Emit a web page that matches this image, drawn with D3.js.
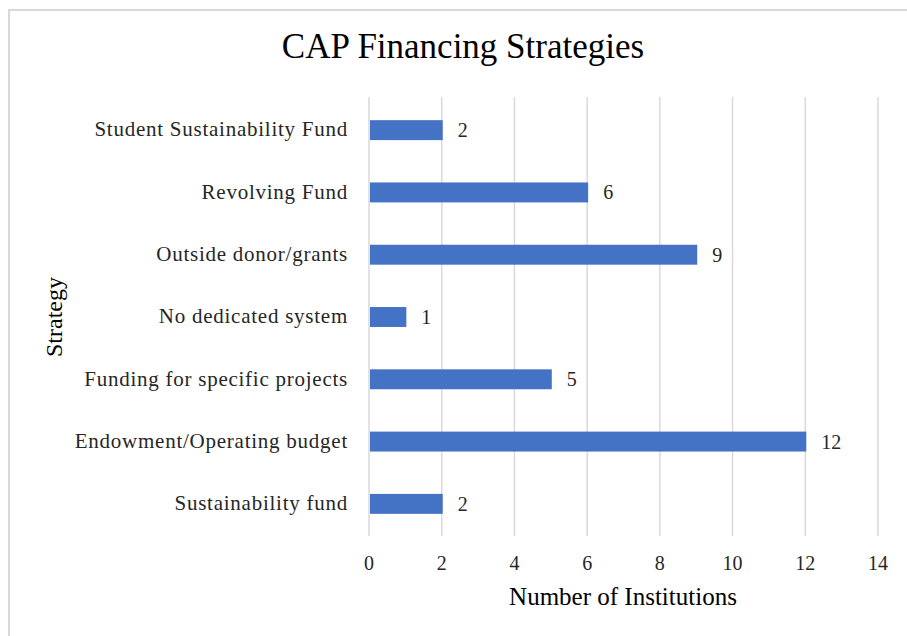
<!DOCTYPE html>
<html>
<head>
<meta charset="utf-8">
<script src="https://cdn.jsdelivr.net/npm/d3@7"></script>
<style>
  body { margin: 0; background: #fff; }
  svg { display: block; font-family: "Liberation Serif", "Times New Roman", serif; }
</style>
</head>
<body>
<div id="chart"></div>
<script>
var title = "CAP Financing Strategies";
var xTitle = "Number of Institutions";
var yTitle = "Strategy";
var strategies = ["Student Sustainability Fund", "Revolving Fund", "Outside donor/grants",
                  "No dedicated system", "Funding for specific projects",
                  "Endowment/Operating budget", "Sustainability fund"];
var institutions = [2, 6, 9, 1, 5, 12, 2];
var xTicks = [0, 2, 4, 6, 8, 10, 12, 14];

(function() {
    var W = 907, H = 636;
    var svg = d3.select("#chart").append("svg")
	.attr("width", W)
	.attr("height", H);

    // chart frame, runs off the right and bottom of the picture
    svg.append("rect")
	.attr("x", 9).attr("y", 10)
	.attr("width", W + 10).attr("height", H + 10)
	.attr("fill", "#fff")
	.attr("stroke", "#d9d9d9")
	.attr("stroke-width", 2);

    var x = d3.scaleLinear().domain([0, 14]).range([369, 878]);
    var y = d3.scaleBand().domain(strategies).range([99, 535])
	.paddingInner(0.68).paddingOuter(0.34);

    var rows = strategies.map(function(s, i) { return { name: s, value: institutions[i] }; });

    svg.append("g").selectAll("line")
	.data(xTicks)
	.enter()
	.append("line")
	.attr("x1", function(d) { return x(d) })
	.attr("x2", function(d) { return x(d) })
	.attr("y1", 97)
	.attr("y2", 536)
	.attr("stroke", "#d9d9d9")
	.attr("stroke-width", 1.5);

    svg.append("g").selectAll("rect")
	.data(rows)
	.enter()
	.append("rect")
	.attr("x", x(0) + 1)
	.attr("y", function(d) { return y(d.name) })
	.attr("width", function(d) { return x(d.value) - x(0) })
	.attr("height", y.bandwidth())
	.attr("fill", "#4472c4");

    svg.append("g").selectAll("text")
	.data(rows)
	.enter()
	.append("text")
	.attr("x", function(d) { return x(d.value) + 16 })
	.attr("y", function(d) { return y(d.name) + y.bandwidth() / 2 })
	.attr("dy", "0.35em")
	.attr("font-size", 20)
	.attr("fill", "#262626")
	.text(function(d) { return d.value });

    svg.append("g").selectAll("text")
	.data(rows)
	.enter()
	.append("text")
	.attr("x", 348)
	.attr("y", function(d) { return y(d.name) + y.bandwidth() / 2 - 1 })
	.attr("dy", "0.35em")
	.attr("text-anchor", "end")
	.attr("font-size", 21)
	.attr("letter-spacing", 0.75)
	.attr("fill", "#262626")
	.text(function(d) { return d.name });

    svg.append("g").selectAll("text")
	.data(xTicks)
	.enter()
	.append("text")
	.attr("x", function(d) { return x(d) })
	.attr("y", 570)
	.attr("text-anchor", "middle")
	.attr("font-size", 20)
	.attr("fill", "#262626")
	.text(function(d) { return d });

    svg.append("text")
	.attr("x", 463).attr("y", 58)
	.attr("text-anchor", "middle")
	.attr("font-size", 35)
	.attr("fill", "#000")
	.text(title);

    svg.append("text")
	.attr("x", 623).attr("y", 605)
	.attr("text-anchor", "middle")
	.attr("font-size", 25)
	.attr("fill", "#000")
	.text(xTitle);

    svg.append("text")
	.attr("transform", "translate(62,317) rotate(-90)")
	.attr("text-anchor", "middle")
	.attr("font-size", 24)
	.attr("fill", "#000")
	.text(yTitle);
})();
</script>
</body>
</html>
